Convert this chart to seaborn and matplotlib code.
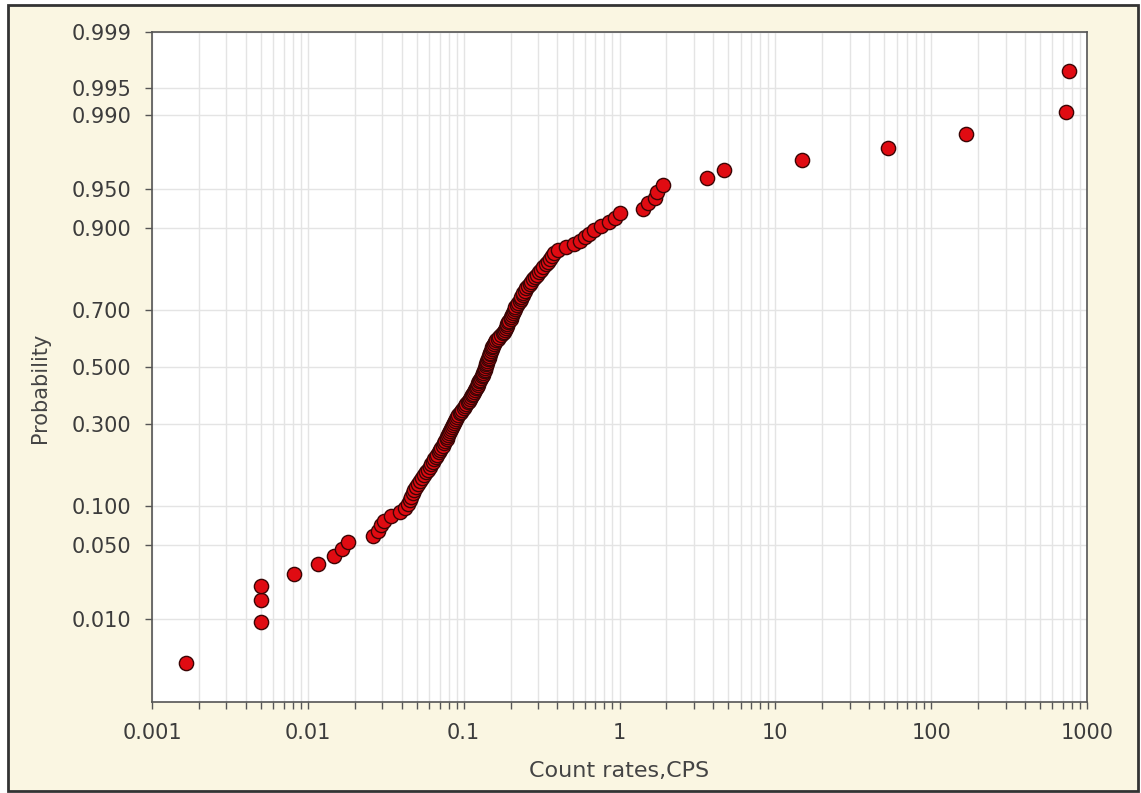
import numpy as np
import matplotlib
matplotlib.use("Agg")
import matplotlib.pyplot as plt
from matplotlib.patches import Rectangle
from matplotlib.ticker import FixedLocator, FixedFormatter, LogLocator, NullFormatter, NullLocator
import seaborn as sns
from statistics import NormalDist

# sorted count rates (CPS)
count_rates = [
    0.00165, 0.0050, 0.0050, 0.0050, 0.0082, 0.0116, 0.0147, 0.0166, 0.0181, 0.0262,
    0.0282, 0.0295, 0.0308, 0.0342, 0.0391, 0.0421, 0.0440, 0.0453, 0.0460, 0.0470,
    0.0480, 0.0495, 0.0510, 0.0521, 0.0537, 0.0557, 0.0574, 0.0591, 0.0609, 0.0618,
    0.0636, 0.0646, 0.0665, 0.0675, 0.0690, 0.0706, 0.0716, 0.0732, 0.0749, 0.0760,
    0.0777, 0.0782, 0.0794, 0.0806, 0.0818, 0.0830, 0.0843, 0.0855, 0.0868, 0.0881,
    0.0887, 0.0907, 0.0921, 0.0941, 0.0962, 0.0977, 0.0999, 0.102, 0.104, 0.106,
    0.1075, 0.110, 0.1116, 0.1132, 0.115, 0.117, 0.118, 0.120, 0.122, 0.123,
    0.124, 0.126, 0.127, 0.129, 0.131, 0.133, 0.134, 0.135, 0.137, 0.138,
    0.139, 0.140, 0.141, 0.142, 0.143, 0.1445, 0.1455, 0.1466, 0.148, 0.150,
    0.151, 0.152, 0.154, 0.157, 0.159, 0.161, 0.166, 0.169, 0.174, 0.179,
    0.182, 0.184, 0.187, 0.190, 0.191, 0.193, 0.196, 0.200, 0.201, 0.204,
    0.208, 0.211, 0.212, 0.215, 0.220, 0.224, 0.229, 0.232, 0.235, 0.239,
    0.242, 0.248, 0.252, 0.259, 0.265, 0.271, 0.279, 0.287, 0.296, 0.305,
    0.314, 0.323, 0.336, 0.346, 0.359, 0.369, 0.380, 0.404, 0.454, 0.511,
    0.559, 0.601, 0.638, 0.687, 0.762, 0.857, 0.937, 1.01, 1.42, 1.53,
    1.69, 1.74, 1.90, 3.63, 4.71, 14.9, 52.7, 168, 735, 772,
]

prob_ticks = [0.010, 0.050, 0.100, 0.300, 0.500, 0.700, 0.900, 0.950, 0.990, 0.995, 0.999]
prob_labels = ["%.3f" % p for p in prob_ticks]
x_ticks = [0.001, 0.01, 0.1, 1, 10, 100, 1000]
x_labels = ["0.001", "0.01", "0.1", "1", "10", "100", "1000"]

# plotting positions (Hazen) for the sorted sample
n = len(count_rates)
probability = (np.arange(1, n + 1) - 0.5) / n

_nd = NormalDist()
_ppf = np.vectorize(_nd.inv_cdf, otypes=[float])
_cdf = np.vectorize(_nd.cdf, otypes=[float])


def probit(p):
    p = np.clip(np.asarray(p, dtype=float), 1e-9, 1 - 1e-9)
    return _ppf(p)


def inv_probit(z):
    return _cdf(np.asarray(z, dtype=float))


sns.set_style("white")
plt.rcParams["font.family"] = ["DejaVu Sans"]

W, H = 1141, 793
fig = plt.figure(figsize=(W / 100, H / 100), dpi=100, facecolor="white")
fig.patches.append(Rectangle((8 / W, 2 / H), 1130 / W, 786 / H, transform=fig.transFigure,
                             facecolor="#faf6e2", edgecolor="#333333", lw=2, zorder=-1))
ax = fig.add_axes([152 / W, 91 / H, 935 / W, 670 / H])
ax.set_facecolor("white")

sns.scatterplot(x=count_rates, y=probability, ax=ax, s=105, color="#e00b12",
                edgecolor="#3b0505", linewidth=1.0, zorder=3, legend=False)

ax.set_xscale("log")
ax.set_yscale("function", functions=(probit, inv_probit))
ax.set_xlim(0.001, 1000)
ax.set_ylim(0.001, 0.999)

ax.xaxis.set_major_locator(FixedLocator(x_ticks))
ax.xaxis.set_major_formatter(FixedFormatter(x_labels))
ax.xaxis.set_minor_locator(LogLocator(base=10, subs=np.arange(2, 10)))
ax.xaxis.set_minor_formatter(NullFormatter())
ax.yaxis.set_major_locator(FixedLocator(prob_ticks))
ax.yaxis.set_major_formatter(FixedFormatter(prob_labels))
ax.yaxis.set_minor_locator(NullLocator())

ax.grid(True, axis="x", which="both", color="#e4e4e4", lw=1.0)
ax.grid(True, axis="y", which="major", color="#e4e4e4", lw=1.0)
ax.set_axisbelow(True)

for s in ax.spines.values():
    s.set_color("#555555")
    s.set_linewidth(1.2)

ax.tick_params(axis="both", which="both", direction="out", length=5, width=1,
               color="#555555", labelsize=15, labelcolor="#3c3c3c",
               bottom=True, left=True, top=False, right=False)
ax.tick_params(axis="x", which="major", pad=10)
ax.tick_params(axis="y", which="major", pad=10)

ax.set_xlabel("Count rates,CPS", fontsize=16, color="#444444")
ax.set_ylabel("Probability", fontsize=15, color="#444444")
ax.xaxis.set_label_coords(0.5, -0.103)
ax.xaxis.label.set_va("center")
ax.yaxis.set_label_coords(-0.1198, 0.469)
ax.yaxis.label.set_va("center")

fig.savefig("out.png", dpi=100, facecolor=fig.get_facecolor())
